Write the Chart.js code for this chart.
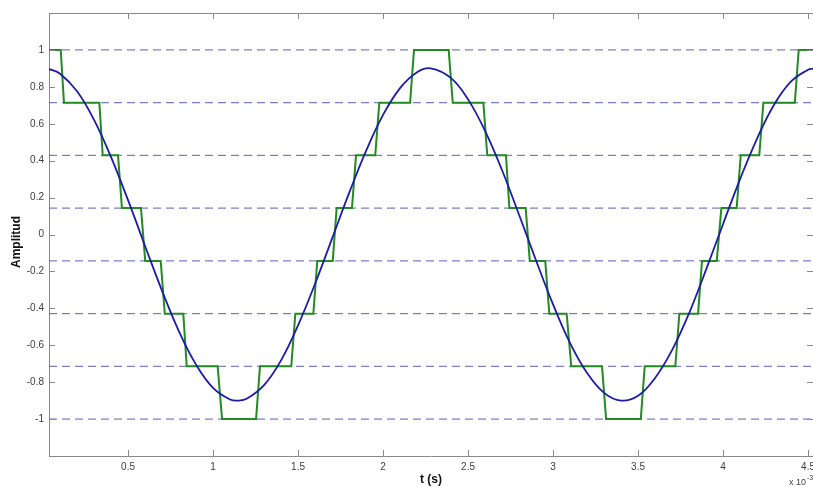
<!DOCTYPE html>
<html>
<head>
<meta charset="utf-8">
<script src="https://cdn.jsdelivr.net/npm/chart.js@4.4.1/dist/chart.umd.min.js"></script>
<style>
  html, body { margin: 0; padding: 0; background: #fff; }
  #wrap { width: 813px; height: 487px; position: relative; }
</style>
</head>
<body>
<div id="wrap"><canvas id="chart"></canvas></div>
<script>
"use strict";

// Axlar (t i ms, dvs x 10^-3 s)
const tMin = 0.035;
const tMax = 4.529;
const yMin = -1.2;
const yMax = 1.2;
const xTicks = [0.5, 1, 1.5, 2, 2.5, 3, 3.5, 4, 4.5];
const yTicks = [-1, -0.8, -0.6, -0.4, -0.2, 0, 0.2, 0.4, 0.6, 0.8, 1];

// Kvantiseringsnivåer (streckade linjer)
const levels = [-1, -0.714, -0.429, -0.143, 0.143, 0.429, 0.714, 1];

// Originalsignalen (blå), avläst
const blueT = [0.035, 0.1, 0.2, 0.3, 0.4, 0.5, 0.6, 0.7, 0.8, 0.9, 1.0, 1.1, 1.15, 1.2, 1.3, 1.4, 1.5,
  1.6, 1.7, 1.8, 1.9, 2.0, 2.1, 2.2, 2.28, 2.4, 2.5, 2.6, 2.7, 2.8, 2.9, 3.0, 3.1, 3.2, 3.3,
  3.4, 3.5, 3.6, 3.7, 3.8, 3.9, 4.0, 4.1, 4.2, 4.3, 4.4, 4.5, 4.529];
const blueY = [0.897, 0.871, 0.776, 0.621, 0.419, 0.186, -0.062, -0.305, -0.526, -0.705, -0.831,
  -0.894, -0.900, -0.889, -0.816, -0.682, -0.492, -0.267, -0.022, 0.224, 0.453, 0.648, 0.793, 0.879,
  0.900, 0.847, 0.732, 0.561, 0.348, 0.107, -0.141, -0.379, -0.588, -0.750, -0.858, -0.900,
  -0.874, -0.777, -0.626, -0.427, -0.190, 0.057, 0.300, 0.520, 0.703, 0.829, 0.893, 0.899];

// Kvantiserad signal (grön), avlästa övergångar
const greenT = [0.035, 0.104, 0.123, 0.331, 0.351, 0.441, 0.464, 0.576, 0.601, 0.692, 0.716,
  0.825, 0.845, 1.027, 1.053, 1.253, 1.276, 1.460, 1.484, 1.590, 1.613, 1.704, 1.727, 1.817,
  1.841, 1.954, 1.978, 2.159, 2.182, 2.386, 2.410, 2.590, 2.613, 2.723, 2.743, 2.839, 2.863,
  2.954, 2.978, 3.080, 3.107, 3.288, 3.312, 3.516, 3.539, 3.719, 3.743, 3.853, 3.876, 3.963,
  3.990, 4.080, 4.104, 4.213, 4.237, 4.422, 4.445, 4.529];
const greenY = [1, 1, 0.714, 0.714, 0.429, 0.429, 0.143, 0.143, -0.143, -0.143, -0.429,
  -0.429, -0.714, -0.714, -1, -1, -0.714, -0.714, -0.429, -0.429, -0.143, -0.143, 0.143, 0.143,
  0.429, 0.429, 0.714, 0.714, 1, 1, 0.714, 0.714, 0.429, 0.429, 0.143, 0.143, -0.143,
  -0.143, -0.429, -0.429, -0.714, -0.714, -1, -1, -0.714, -0.714, -0.429, -0.429, -0.143, -0.143,
  0.143, 0.143, 0.429, 0.429, 0.714, 0.714, 1, 1];

const fontFamily = "'Liberation Sans', Arial, sans-serif";
const axisColor = '#8a8a8a';

const blueData = blueT.map((t, i) => ({ x: t, y: blueY[i] }));
const greenData = greenT.map((t, i) => ({ x: t, y: greenY[i] }));

const levelSets = levels.map(v => ({
  data: [{ x: tMin, y: v }, { x: tMax, y: v }],
  borderColor: '#5c5cc0',
  borderWidth: 1,
  borderDash: [8, 5],
  pointRadius: 0,
  order: 3
}));

// Ticks inåt + övre ram + texter
const matlabAxes = {
  id: 'matlabAxes',
  afterDraw(chart) {
    const c = chart.ctx;
    const a = chart.chartArea;
    const xs = chart.scales.x;
    const ys = chart.scales.y;
    c.save();
    c.strokeStyle = axisColor;
    c.lineWidth = 1;
    c.beginPath();
    c.moveTo(a.left, a.top + 0.5);
    c.lineTo(a.right, a.top + 0.5);
    xTicks.forEach(v => {
      const px = Math.round(xs.getPixelForValue(v)) + 0.5;
      c.moveTo(px, a.bottom); c.lineTo(px, a.bottom - 6);
      c.moveTo(px, a.top); c.lineTo(px, a.top + 6);
    });
    yTicks.forEach(v => {
      const py = Math.round(ys.getPixelForValue(v)) + 0.5;
      c.moveTo(a.left, py); c.lineTo(a.left + 6, py);
      c.moveTo(a.right, py); c.lineTo(a.right - 6, py);
    });
    c.stroke();

    c.fillStyle = '#111';
    c.font = 'bold 12px ' + fontFamily;
    c.textAlign = 'center';
    c.textBaseline = 'middle';
    c.fillText('t (s)', (a.left + a.right) / 2, 480);
    c.save();
    c.translate(17, 242);
    c.rotate(-Math.PI / 2);
    c.fillText('Amplitud', 0, 0);
    c.restore();

    c.fillStyle = '#444';
    c.textAlign = 'left';
    c.font = '9px ' + fontFamily;
    c.fillText('x 10', 789, 483);
    c.font = '7px ' + fontFamily;
    c.fillText('-3', 807, 478);
    c.restore();
  }
};

const ctx = document.getElementById('chart');

new Chart(ctx, {
  type: 'line',
  data: {
    datasets: [
      {
        data: blueData,
        borderColor: '#1c1caa',
        borderWidth: 1.8,
        pointRadius: 0,
        tension: 0.4,
        order: 1
      },
      {
        data: greenData,
        borderColor: '#228b22',
        borderWidth: 2,
        pointRadius: 0,
        tension: 0,
        order: 2
      },
      ...levelSets
    ]
  },
  options: {
    responsive: true,
    maintainAspectRatio: false,
    animation: false,
    layout: { padding: { top: 13, right: 0, left: 0, bottom: 0 } },
    plugins: {
      legend: { display: false },
      tooltip: { enabled: false }
    },
    scales: {
      x: {
        type: 'linear',
        min: tMin,
        max: tMax,
        afterBuildTicks: s => { s.ticks = xTicks.map(v => ({ value: v })); },
        afterFit: s => { s.height = 31; s.paddingLeft = 0; s.paddingRight = 0; },
        grid: { display: false, drawTicks: false },
        border: { display: true, color: axisColor, width: 1 },
        ticks: {
          padding: 5,
          maxRotation: 0,
          autoSkip: false,
          color: '#404040',
          font: { family: fontFamily, size: 10 },
          callback: v => String(v)
        }
      },
      y: {
        min: yMin,
        max: yMax,
        afterBuildTicks: s => { s.ticks = yTicks.map(v => ({ value: v })); },
        afterFit: s => { s.width = 49; s.paddingTop = 0; s.paddingBottom = 0; },
        grid: { display: false, drawTicks: false },
        border: { display: true, color: axisColor, width: 1 },
        ticks: {
          padding: 5,
          autoSkip: false,
          color: '#404040',
          font: { family: fontFamily, size: 10 },
          callback: v => String(v)
        }
      }
    }
  },
  plugins: [matlabAxes]
});
</script>
</body>
</html>
